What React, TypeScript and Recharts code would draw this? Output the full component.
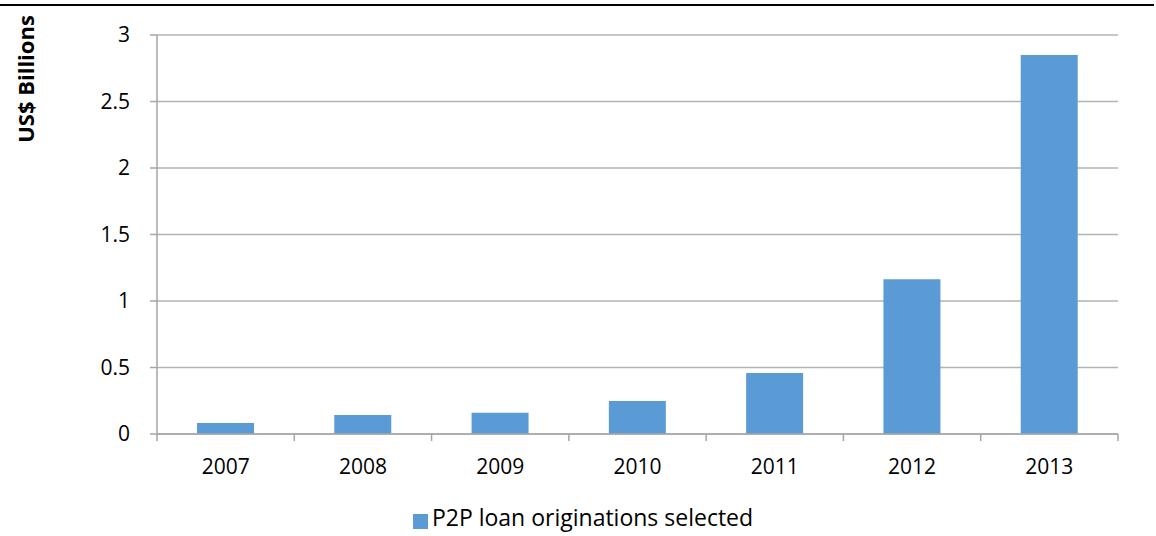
import { BarChart, Bar, XAxis, YAxis, CartesianGrid, Legend } from "recharts";

const YEARS = ["2007", "2008", "2009", "2010", "2011", "2012", "2013"];
const ORIGINATIONS = [0.083, 0.143, 0.16, 0.248, 0.459, 1.163, 2.85];
const Y_TICKS = [0, 0.5, 1, 1.5, 2, 2.5, 3];

const data = YEARS.map((year, i) => ({ year, value: ORIGINATIONS[i] }));

const FONT = "'Open Sans', 'DejaVu Sans', sans-serif";
const AXIS_GREY = "#a6a6a6";
const TICK_MARGIN = 25;
const TICK_LEN = 7;

// category label plus tick marks on the slot edges (Excel style)
const YearTick = (props: any) => {
  const { x, y, payload, index, visibleTicksCount } = props;
  const half = payload.offset || 0;
  const axisY = y - TICK_MARGIN;
  const isLast = index === visibleTicksCount - 1;
  return (
    <g>
      <line x1={x - half} x2={x - half} y1={axisY} y2={axisY + TICK_LEN} stroke={AXIS_GREY} strokeWidth={1.5} />
      {isLast && (
        <line x1={x + half} x2={x + half} y1={axisY} y2={axisY + TICK_LEN} stroke={AXIS_GREY} strokeWidth={1.5} />
      )}
      <text x={x} y={y} dy="0.71em" textAnchor="middle" fontSize={21} fontFamily={FONT} fill="#000">
        {payload.value}
      </text>
    </g>
  );
};

export default function App() {
  return (
    <div style={{ position: "absolute", left: 0, top: 0, width: 1156, height: 536, background: "#fff", fontFamily: FONT }}>
      <div style={{ position: "absolute", left: 0, top: 4, width: 1154, borderTop: "2px solid #000" }} />
      <BarChart
        width={1156}
        height={536}
        data={data}
        margin={{ top: 35, right: 38, bottom: 62, left: 0 }}
        barCategoryGap="0%"
      >
        <CartesianGrid vertical={false} stroke="#b3b3b3" strokeWidth={1.5} />
        <XAxis
          dataKey="year"
          height={40}
          interval={0}
          tickLine={false}
          axisLine={{ stroke: AXIS_GREY, strokeWidth: 1.5 }}
          tickSize={0}
          tickMargin={TICK_MARGIN}
          tick={<YearTick />}
        />
        <YAxis
          width={157}
          domain={[0, 3]}
          ticks={Y_TICKS}
          interval={0}
          tickSize={7}
          tickMargin={20}
          tickLine={{ stroke: AXIS_GREY, strokeWidth: 1.5 }}
          axisLine={{ stroke: AXIS_GREY, strokeWidth: 1.5 }}
          tick={{ fill: "#000", fontSize: 21, fontFamily: FONT }}
          label={() => (
            <text
              x={25}
              y={79}
              transform="rotate(-90 25 79)"
              textAnchor="middle"
              dominantBaseline="central"
              fontSize={22}
              fontWeight="bold"
              fontFamily={FONT}
              fill="#000"
            >
              US$ Billions
            </text>
          )}
        />
        <Legend
          verticalAlign="middle"
          align="center"
          iconType="square"
          iconSize={15}
          formatter={(v) => <span style={{ color: "#000", fontSize: 23 }}>{v}</span>}
          wrapperStyle={{ top: 501, left: 29, fontFamily: FONT }}
        />
        <Bar
          dataKey="value"
          name="P2P loan originations selected"
          fill="#5b9bd5"
          barSize={57}
          isAnimationActive={false}
        />
      </BarChart>
    </div>
  );
}
